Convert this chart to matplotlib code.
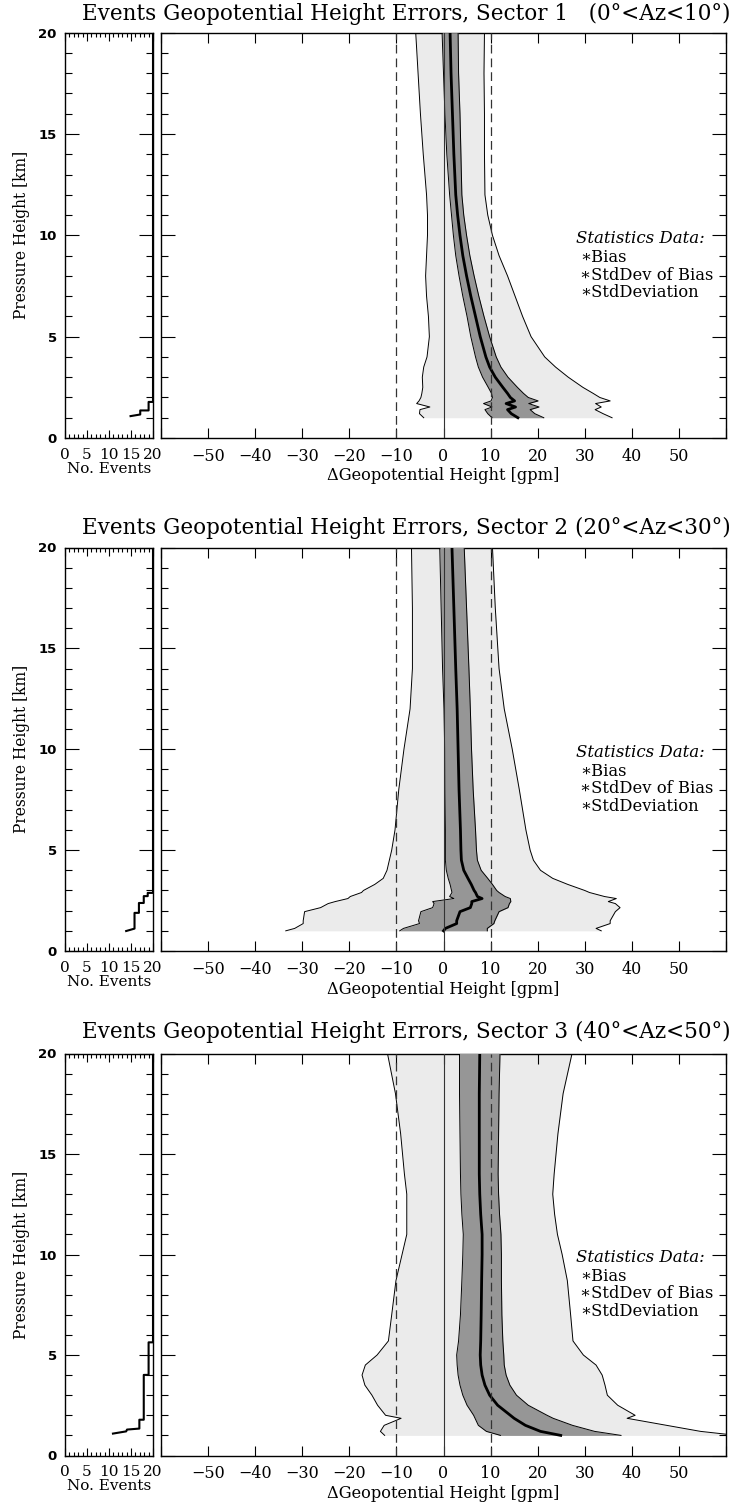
import matplotlib
matplotlib.use("Agg")
import matplotlib.pyplot as plt
import numpy as np

# ---------------- data ----------------
titles = ["Events Geopotential Height Errors, Sector 1   (0°<Az<10°)",
          "Events Geopotential Height Errors, Sector 2 (20°<Az<30°)",
          "Events Geopotential Height Errors, Sector 3 (40°<Az<50°)"]

# sector 1: height [km], bias, std-dev of bias, std-deviation [gpm]
z1 = [20.0, 18.0, 16.0, 14.0, 12.0, 11.0, 10.0, 9.0, 8.0, 7.0, 6.0, 5.0, 4.0,
      3.5, 3.0, 2.5, 2.2, 2.0, 1.83, 1.7, 1.53, 1.4, 1.2, 1.0]
bias1 = [1.4, 1.6, 1.9, 2.2, 2.6, 3.0, 3.5, 4.1, 4.9, 5.8, 6.8, 7.8, 9.0,
         9.8, 11.0, 12.6, 13.6, 14.2, 15.1, 13.3, 15.3, 13.6, 14.4, 15.8]
sdb1 = [1.7, 1.6, 1.6, 1.5, 1.3, 1.3, 1.4, 1.5, 1.6, 1.7, 1.8, 2.0, 2.2,
        2.4, 2.7, 3.1, 3.4, 3.8, 5.0, 4.8, 5.0, 4.8, 5.0, 5.5]
sd1 = [7.3, 7.0, 6.8, 6.5, 6.2, 6.4, 6.9, 7.7, 8.7, 9.4, 10.0, 10.8, 12.5,
       14.0, 15.5, 17.0, 18.2, 19.0, 20.3, 19.0, 18.2, 18.6, 19.5, 20.0]
ev_n1 = [14.9, 17.1, 17.1, 19.0, 19.0, 20.0, 20.0]
ev_z1 = [1.08, 1.16, 1.36, 1.36, 1.78, 1.78, 20.0]

# sector 2
z2 = [20.0, 17.0, 14.0, 12.0, 10.0, 8.0, 6.0, 5.0, 4.5, 4.0, 3.6, 3.3, 3.0,
      2.9, 2.7, 2.6, 2.45, 2.35, 2.15, 1.95, 1.5, 1.36, 1.12, 1.0]
bias2 = [1.8, 2.2, 2.6, 2.9, 3.1, 3.3, 3.6, 3.7, 3.8, 4.3, 5.2, 5.9, 6.5,
         6.8, 7.2, 8.2, 6.0, 6.0, 5.7, 3.5, 2.8, 2.8, 0.4, 0.0]
sdb2 = [2.6, 2.7, 2.8, 2.8, 2.85, 3.0, 3.2, 3.3, 3.4, 3.7, 4.2, 4.5, 4.8,
        5.0, 5.9, 6.0, 8.3, 8.0, 8.0, 8.3, 8.1, 7.9, 8.9, 9.3]
sd2 = [8.6, 8.8, 9.2, 10.0, 11.5, 12.8, 13.9, 14.7, 15.3, 16.3, 18.0, 20.5,
       23.5, 24.2, 27.0, 28.5, 29.0, 30.5, 31.8, 33.0, 32.6, 32.6, 32.0, 33.5]
ev_n2 = [13.9, 15.8, 15.8, 16.8, 16.8, 17.9, 17.9, 18.8, 18.8, 20.0, 20.0]
ev_z2 = [0.99, 1.11, 1.89, 1.89, 2.38, 2.38, 2.72, 2.72, 2.88, 2.88, 20.0]

# sector 3
z3 = [20.0, 18.0, 16.0, 14.0, 13.0, 12.0, 11.0, 10.0, 8.7, 7.0, 5.7, 5.0,
      4.5, 4.0, 3.5, 3.0, 2.5, 2.0, 1.85, 1.5, 1.2, 1.0]
bias3 = [7.7, 7.6, 7.6, 7.6, 7.7, 7.9, 8.2, 8.2, 8.1, 8.0, 7.9, 7.8,
         7.9, 8.2, 8.8, 9.8, 11.5, 14.2, 15.0, 17.4, 20.6, 24.9]
sdb3 = [4.3, 4.2, 4.1, 4.0, 4.0, 4.0, 4.0, 4.1, 4.2, 4.4, 4.7, 5.0,
        5.0, 5.1, 5.3, 5.7, 6.5, 7.8, 8.3, 10.0, 11.5, 12.8]
sd3 = [19.6, 17.8, 16.7, 15.9, 15.5, 15.7, 16.0, 17.0, 18.2, 19.0, 19.6, 21.9,
       24.5, 25.5, 25.5, 25.0, 25.5, 26.5, 24.0, 30.0, 34.0, 37.4]
ev_n3 = [10.9, 13.9, 14.1, 16.9, 16.9, 17.9, 17.9, 19.0, 19.0, 20.0, 20.0]
ev_z3 = [1.09, 1.20, 1.29, 1.34, 1.78, 1.78, 4.01, 4.01, 5.63, 5.63, 20.0]

legend_lines = ["∗Bias", "∗StdDev of Bias", "∗StdDeviation"]

# ---------------- layout ----------------
W, H = 733, 1507
LIGHT = "#ebebeb"
DARK = "#969696"
SERIF = "DejaVu Serif"

# (top, bottom) of each panel in pixels
panel_px = [(32.7, 438.0), (547.5, 951.0), (1053.5, 1455.5)]
title_px = [14, 528, 1032]


def draw_panel(top, bottom, title_y, title, z, bias, sdb, sd, ev_n, ev_z):
    b = 1 - bottom / H
    h = (bottom - top) / H
    ax_n = fig.add_axes([65 / W, b, 88 / W, h])
    ax = fig.add_axes([161 / W, b, 565 / W, h])

    z = np.array(z)
    bias = np.array(bias)
    sdb = np.array(sdb)
    sd = np.array(sd)

    # std deviation envelope
    ax.fill_betweenx(z, bias - sd, bias + sd, color=LIGHT, lw=0, zorder=1)
    ax.plot(bias - sd, z, color="k", lw=0.7, zorder=2)
    ax.plot(bias + sd, z, color="k", lw=0.7, zorder=2)
    # std dev of bias envelope
    ax.fill_betweenx(z, bias - sdb, bias + sdb, color=DARK, lw=0, zorder=3)
    ax.plot(bias - sdb, z, color="k", lw=0.7, zorder=4)
    ax.plot(bias + sdb, z, color="k", lw=0.7, zorder=4)
    ax.plot(bias, z, color="k", lw=2.0, zorder=5)

    ax.axvline(0, color="#333333", lw=0.8, zorder=6)
    for xv in (-10, 10):
        ax.axvline(xv, color="#333333", lw=0.9, ls=(0, (7, 4)), zorder=6)

    ax.set_xlim(-60, 60)
    ax.set_ylim(0, 20)
    ax.set_xticks(np.arange(-60, 61, 10))
    ax.set_xticklabels(["" if abs(v) == 60 else ("\u2212%d" % -v if v < 0 else "%d" % v)
                        for v in range(-60, 61, 10)])
    ax.set_yticks(np.arange(0, 21, 5))
    ax.set_yticks(np.arange(0, 21, 1), minor=True)
    ax.set_yticklabels([])
    ax.tick_params(axis="x", which="major", direction="in", length=7, width=0.8,
                   top=True, bottom=True, labelsize=11.5, pad=7)
    ax.tick_params(axis="y", which="major", direction="in", length=10, width=0.8,
                   left=True, right=True)
    ax.tick_params(axis="y", which="minor", direction="in", length=5, width=0.8,
                   left=True, right=True)
    for lab in ax.get_xticklabels():
        lab.set_family(SERIF)
    ax.set_xlabel("\u0394Geopotential Height [gpm]", family=SERIF, fontsize=11.7,
                  labelpad=2)

    # legend text
    ax.text(0.735, 0.493, "Statistics Data:", transform=ax.transAxes, family=SERIF,
            style="italic", fontsize=12, va="center", ha="left")
    for i, s in enumerate(legend_lines):
        ax.text(0.742, 0.446 - i * 0.044, s, transform=ax.transAxes, family=SERIF,
                fontsize=11.8, va="center", ha="left")

    # events panel
    ax_n.plot(ev_n, ev_z, color="k", lw=1.5)
    ax_n.set_xlim(0, 20)
    ax_n.set_ylim(0, 20)
    ax_n.set_xticks(np.arange(0, 21, 5))
    ax_n.set_xticks(np.arange(0, 21, 1), minor=True)
    ax_n.set_yticks(np.arange(0, 21, 5))
    ax_n.set_yticks(np.arange(0, 21, 1), minor=True)
    ax_n.tick_params(axis="x", which="major", direction="in", length=6, width=0.8,
                     top=True, bottom=True, labelsize=11, pad=7)
    ax_n.tick_params(axis="x", which="minor", direction="in", length=3, width=0.8,
                     top=True, bottom=True)
    ax_n.tick_params(axis="y", which="major", direction="in", length=10, width=0.8,
                     left=True, right=True, labelsize=9.5, pad=6)
    ax_n.tick_params(axis="y", which="minor", direction="in", length=5, width=0.8,
                     left=True, right=True)
    for lab in ax_n.get_xticklabels():
        lab.set_family(SERIF)
    for lab in ax_n.get_yticklabels():
        lab.set_family("DejaVu Sans")
        lab.set_fontweight("bold")
    ax_n.set_xlabel("No. Events", family=SERIF, fontsize=11, labelpad=0)
    ax_n.set_ylabel("Pressure Height [km]", family=SERIF, fontsize=11.2, labelpad=6)

    for a in (ax, ax_n):
        for sp in a.spines.values():
            sp.set_linewidth(1.0)

    fig.text(731 / W, 1 - title_y / H, title, ha="right", va="center",
             family=SERIF, fontsize=15.5)


fig = plt.figure(figsize=(W / 100, H / 100), dpi=100)
data = [(z1, bias1, sdb1, sd1, ev_n1, ev_z1),
        (z2, bias2, sdb2, sd2, ev_n2, ev_z2),
        (z3, bias3, sdb3, sd3, ev_n3, ev_z3)]
for (top, bottom), ty, title, d in zip(panel_px, title_px, titles, data):
    draw_panel(top, bottom, ty, title, *d)

fig.savefig("out.png", dpi=100)
